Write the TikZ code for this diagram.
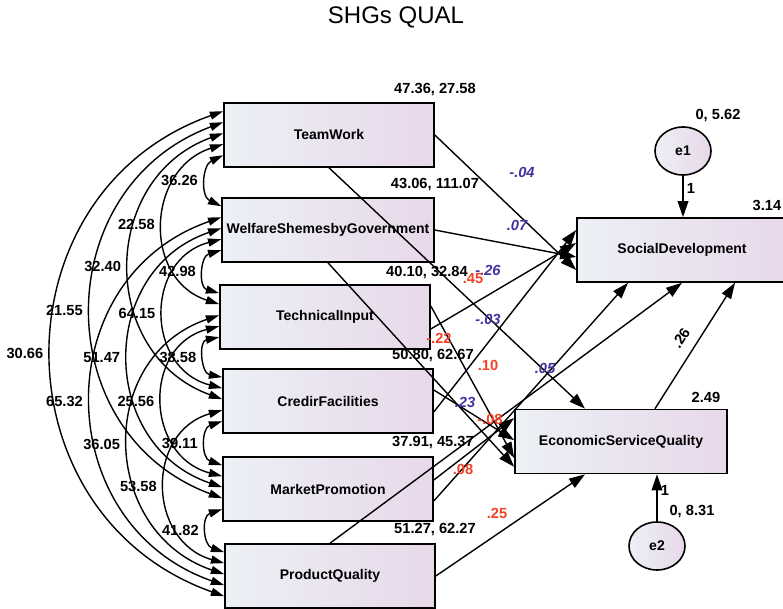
\documentclass[tikz,border=0pt]{standalone}
\usepackage{fontspec}
\setmainfont{Liberation Sans}
\usetikzlibrary{arrows.meta,shapes.geometric}

\definecolor{boxleft}{RGB}{236,240,245}
\definecolor{boxright}{RGB}{232,216,234}
\definecolor{pathblue}{RGB}{66,50,160}
\definecolor{pathred}{RGB}{242,66,40}

\tikzset{
  obsvar/.style={draw, line width=1.2pt, left color=boxleft, right color=boxright,
    minimum width=157.5pt, minimum height=48pt, font=\bfseries\fontsize{10.5}{12}\selectfont},
  errvar/.style={draw, ellipse, line width=1.2pt, left color=boxleft, right color=boxright,
    minimum width=42pt, minimum height=36pt, inner sep=0pt, font=\bfseries\fontsize{10.5}{12}\selectfont},
  cov/.style={line width=1.05pt, {Triangle[length=10pt,width=6pt]}-{Triangle[length=10pt,width=6pt]}},
  regpath/.style={line width=1.05pt, -{Triangle[length=12pt,width=8pt]}},
  numlbl/.style={font=\bfseries\fontsize{11}{13}\selectfont, inner sep=0pt},
  covlbl/.style={numlbl, pos=0.5, anchor=east, xshift=-6pt},
  bluecoef/.style={numlbl, text=pathblue, font=\bfseries\itshape\fontsize{11}{13}\selectfont},
  redcoef/.style={numlbl, text=pathred}
}

\begin{document}
\begin{tikzpicture}[x=0.75pt,y=0.75pt,yscale=-1,xscale=1]
\useasboundingbox (0,0) rectangle (783,609);

%Title
\node[font=\fontsize{18}{21}\selectfont] (title) at (396,17) {SHGs QUAL};

%Exogenous variables
\node[obsvar] (tw) at (329,135) {TeamWork};
\node[obsvar] (wsg) at (328,230) {WelfareShemesbyGovernment};
\node[obsvar] (ti) at (325,317) {TechnicalInput};
\node[obsvar] (cf) at (328,401) {CredirFacilities};
\node[obsvar] (mp) at (328,489) {MarketPromotion};
\node[obsvar] (pq) at (330,576) {ProductQuality};

%Endogenous variables
\node[obsvar] (sd) at (682,250) {SocialDevelopment};
\node[obsvar, minimum width=159pt] (esq) at (621,441.5) {EconomicServiceQuality};

%Error terms
\node[errvar] (e1) at (683,151) {e1};
\node[errvar] (e2) at (657,546) {e2};

%Attachment points on the left sides
\foreach \b in {tw,wsg,ti,cf,mp,pq}{
  \foreach \s in {0,...,4}{
    \path (\b.north west) ++(0,9+11*\s) coordinate (\b-\s);
  }
}

%Covariances
\draw[cov] (tw-4) .. controls +(-21,10) and +(-21,-10) .. (wsg-0) node[covlbl] {36.26};
\draw[cov] (wsg-4) .. controls +(-21,6) and +(-21,-6) .. (ti-0) node[covlbl] {42.98};
\draw[cov] (ti-4) .. controls +(-21,4) and +(-21,-4) .. (cf-0) node[covlbl] {38.58};
\draw[cov] (cf-4) .. controls +(-21,7) and +(-21,-7) .. (mp-0) node[covlbl] {39.11};
\draw[cov] (mp-4) .. controls +(-21,7) and +(-21,-7) .. (pq-0) node[covlbl] {41.82};

\draw[cov] (tw-3) .. controls +(-77,25) and +(-77,-25) .. (ti-1) node[covlbl] {22.58};
\draw[cov] (wsg-3) .. controls +(-77,20) and +(-77,-20) .. (cf-1) node[covlbl] {64.15};
\draw[cov] (ti-3) .. controls +(-77,20) and +(-77,-20) .. (mp-1) node[covlbl] {25.56};
\draw[cov] (cf-3) .. controls +(-77,22) and +(-77,-22) .. (pq-1) node[covlbl] {53.58};

\draw[cov] (tw-2) .. controls +(-124,45) and +(-124,-45) .. (cf-2) node[covlbl] {32.40};
\draw[cov] (wsg-2) .. controls +(-124,42) and +(-124,-42) .. (mp-2) node[covlbl] {51.47};
\draw[cov] (ti-2) .. controls +(-124,42) and +(-124,-42) .. (pq-2) node[covlbl] {36.05};

\draw[cov] (tw-1) .. controls +(-175,65) and +(-175,-65) .. (mp-3) node[covlbl] {21.55};
\draw[cov] (wsg-1) .. controls +(-175,61) and +(-175,-61) .. (pq-3) node[covlbl] {65.32};

\draw[cov] (tw-0) .. controls +(-229,81) and +(-229,-81) .. (pq-4) node[covlbl] {30.66};

%Paths to SocialDevelopment
\draw[regpath] (tw.east) -- ([yshift=15pt]sd.west);
\draw[regpath] (wsg.east) -- ([yshift=5.25pt]sd.west);
\draw[regpath] ([yshift=9pt]ti.east) -- ([yshift=-5.25pt]sd.west);
\draw[regpath] ([yshift=8.25pt]cf.east) -- ([yshift=-15pt]sd.west);
\draw[regpath] ([yshift=9pt]mp.east) -- ([xshift=-40.5pt]sd.south);
\draw[regpath] (pq.north) -- (sd.south);
\draw[regpath] ([xshift=25.5pt]esq.north) -- ([xshift=39.75pt]sd.south);

%Paths to EconomicServiceQuality
\draw[regpath] (tw.south) -- ([xshift=-27pt]esq.north);
\draw[regpath] (wsg.south) -- ([yshift=19pt]esq.west);
\draw[regpath] ([yshift=-8.25pt]ti.east) -- ([yshift=12.4pt]esq.west);
\draw[regpath] ([yshift=-8.25pt]cf.east) -- ([yshift=-1pt]esq.west);
\draw[regpath] ([yshift=-6.75pt]mp.east) -- ([yshift=-17.6pt]esq.west);
\draw[regpath] (pq.east) -- ([xshift=-27pt]esq.south);

%Error paths
\draw[regpath] (e1) -- (e1 |- sd.north);
\draw[regpath] (e2) -- (e2 |- esq.south);

%Means and variances
\node[numlbl] (v-tw) at (435,90) {47.36, 27.58};
\node[numlbl] (v-wsg) at (435,185) {43.06, 111.07};
\node[numlbl] (v-ti) at (427,273) {40.10, 32.84};
\node[numlbl] (v-cf) at (433,356) {50.80, 62.67};
\node[numlbl] (v-mp) at (433,443) {37.91, 45.37};
\node[numlbl] (v-pq) at (435,530) {51.27, 62.27};
\node[numlbl] (v-e1) at (718,116) {0, 5.62};
\node[numlbl] (v-e2) at (692,512) {0, 8.31};
\node[numlbl] (r-sd) at (767,205) {3.14};
\node[numlbl] (r-esq) at (706,397) {2.49};
\node[numlbl] (w-e1) at (691,188) {1};
\node[numlbl] (w-e2) at (665,490) {1};

%Path coefficients
\node[bluecoef] (c-tw-sd) at (522,172) {-.04};
\node[bluecoef] (c-wsg-sd) at (517,225) {.07};
\node[bluecoef] (c-ti-sd) at (488,270) {-.26};
\node[redcoef] (c-wsg-esq) at (473,279) {.45};
\node[bluecoef] (c-tw-esq) at (488,319) {-.03};
\node[redcoef] (c-ti-esq) at (439,338) {-.22};
\node[redcoef] (c-cf-sd) at (488,365) {.10};
\node[bluecoef] (c-mp-sd) at (545,368) {.05};
\node[bluecoef] (c-cf-esq) at (465,402) {.23};
\node[redcoef] (c-pq-sd) at (490,419) {-.08};
\node[redcoef] (c-mp-esq) at (463,469) {.08};
\node[redcoef] (c-pq-esq) at (497,513) {.25};
\node[numlbl, rotate=57] (c-esq-sd) at (681,338) {.26};

\end{tikzpicture}
\end{document}
